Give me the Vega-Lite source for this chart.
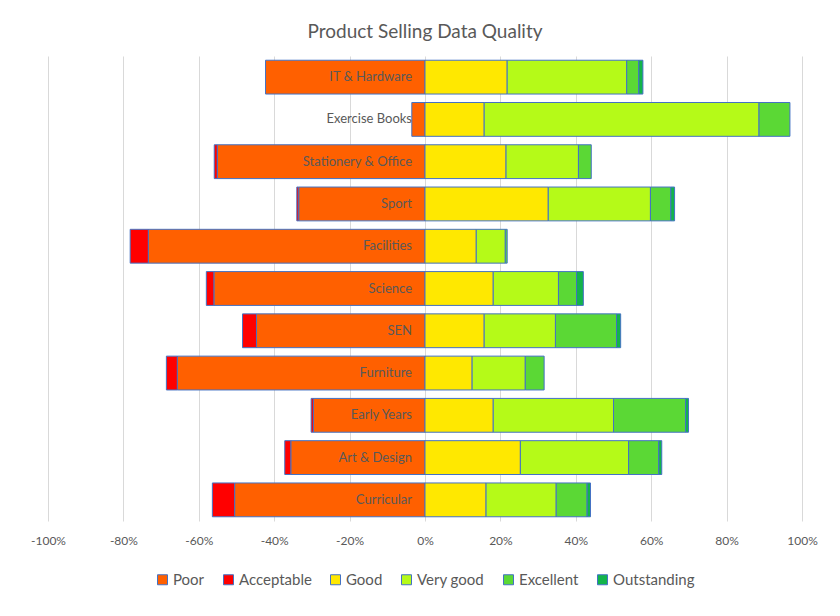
{
  "$schema": "https://vega.github.io/schema/vega-lite/v6.json",
  "width": 754,
  "height": 465,
  "padding": {"left": 30, "right": 20, "top": 23, "bottom": 10},
  "background": "white",
  "title": {
    "text": "Product Selling Data Quality",
    "font": "Lato",
    "fontSize": 19,
    "fontWeight": "normal",
    "color": "#595959",
    "offset": 14
  },
  "data": {
    "values": [
      {"category": "IT & Hardware", "rating": "Poor", "share": -0.423},
      {"category": "IT & Hardware", "rating": "Good", "share": 0.218},
      {"category": "IT & Hardware", "rating": "Very good", "share": 0.317},
      {"category": "IT & Hardware", "rating": "Excellent", "share": 0.032},
      {"category": "IT & Hardware", "rating": "Outstanding", "share": 0.011},
      {"category": "Exercise Books", "rating": "Poor", "share": -0.035},
      {"category": "Exercise Books", "rating": "Good", "share": 0.157},
      {"category": "Exercise Books", "rating": "Very good", "share": 0.729},
      {"category": "Exercise Books", "rating": "Excellent", "share": 0.082},
      {"category": "Stationery & Office", "rating": "Poor", "share": -0.551},
      {"category": "Stationery & Office", "rating": "Acceptable", "share": -0.008},
      {"category": "Stationery & Office", "rating": "Good", "share": 0.215},
      {"category": "Stationery & Office", "rating": "Very good", "share": 0.192},
      {"category": "Stationery & Office", "rating": "Excellent", "share": 0.034},
      {"category": "Sport", "rating": "Poor", "share": -0.335},
      {"category": "Sport", "rating": "Acceptable", "share": -0.005},
      {"category": "Sport", "rating": "Good", "share": 0.327},
      {"category": "Sport", "rating": "Very good", "share": 0.271},
      {"category": "Sport", "rating": "Excellent", "share": 0.054},
      {"category": "Sport", "rating": "Outstanding", "share": 0.010},
      {"category": "Facilities", "rating": "Poor", "share": -0.734},
      {"category": "Facilities", "rating": "Acceptable", "share": -0.048},
      {"category": "Facilities", "rating": "Good", "share": 0.136},
      {"category": "Facilities", "rating": "Very good", "share": 0.077},
      {"category": "Facilities", "rating": "Excellent", "share": 0.005},
      {"category": "Science", "rating": "Poor", "share": -0.560},
      {"category": "Science", "rating": "Acceptable", "share": -0.020},
      {"category": "Science", "rating": "Good", "share": 0.181},
      {"category": "Science", "rating": "Very good", "share": 0.173},
      {"category": "Science", "rating": "Excellent", "share": 0.048},
      {"category": "Science", "rating": "Outstanding", "share": 0.018},
      {"category": "SEN", "rating": "Poor", "share": -0.447},
      {"category": "SEN", "rating": "Acceptable", "share": -0.037},
      {"category": "SEN", "rating": "Good", "share": 0.157},
      {"category": "SEN", "rating": "Very good", "share": 0.189},
      {"category": "SEN", "rating": "Excellent", "share": 0.162},
      {"category": "SEN", "rating": "Outstanding", "share": 0.011},
      {"category": "Furniture", "rating": "Poor", "share": -0.657},
      {"category": "Furniture", "rating": "Acceptable", "share": -0.029},
      {"category": "Furniture", "rating": "Good", "share": 0.125},
      {"category": "Furniture", "rating": "Very good", "share": 0.141},
      {"category": "Furniture", "rating": "Excellent", "share": 0.050},
      {"category": "Early Years", "rating": "Poor", "share": -0.296},
      {"category": "Early Years", "rating": "Acceptable", "share": -0.006},
      {"category": "Early Years", "rating": "Good", "share": 0.181},
      {"category": "Early Years", "rating": "Very good", "share": 0.319},
      {"category": "Early Years", "rating": "Excellent", "share": 0.191},
      {"category": "Early Years", "rating": "Outstanding", "share": 0.008},
      {"category": "Art & Design", "rating": "Poor", "share": -0.356},
      {"category": "Art & Design", "rating": "Acceptable", "share": -0.016},
      {"category": "Art & Design", "rating": "Good", "share": 0.253},
      {"category": "Art & Design", "rating": "Very good", "share": 0.287},
      {"category": "Art & Design", "rating": "Excellent", "share": 0.080},
      {"category": "Art & Design", "rating": "Outstanding", "share": 0.008},
      {"category": "Curricular", "rating": "Poor", "share": -0.505},
      {"category": "Curricular", "rating": "Acceptable", "share": -0.059},
      {"category": "Curricular", "rating": "Good", "share": 0.162},
      {"category": "Curricular", "rating": "Very good", "share": 0.186},
      {"category": "Curricular", "rating": "Excellent", "share": 0.082},
      {"category": "Curricular", "rating": "Outstanding", "share": 0.009}
    ]
  },
  "encoding": {
    "y": {
      "field": "category",
      "type": "nominal",
      "sort": ["IT & Hardware", "Exercise Books", "Stationery & Office", "Sport", "Facilities", "Science", "SEN", "Furniture", "Early Years", "Art & Design", "Curricular"],
      "scale": {"paddingInner": 0.2, "paddingOuter": 0.1},
      "axis": null
    }
  },
  "layer": [
    {
      "transform": [
        {"calculate": "indexof(['Poor', 'Acceptable', 'Good', 'Very good', 'Excellent', 'Outstanding'], datum.rating)", "as": "level"}
      ],
      "mark": {"type": "bar", "stroke": "#4472C4", "strokeWidth": 1},
      "encoding": {
        "x": {
          "field": "share",
          "type": "quantitative",
          "stack": "zero",
          "scale": {"domain": [-1, 1]},
          "axis": {
            "values": [-1, -0.8, -0.6, -0.4, -0.2, 0, 0.2, 0.4, 0.6, 0.8, 1],
            "labelExpr": "round(datum.value * 100) + '%'",
            "labelFlush": false,
            "title": null,
            "grid": true,
            "gridColor": "#d9d9d9",
            "domain": false,
            "ticks": false,
            "labelPadding": 14,
            "labelFont": "Lato",
            "labelFontSize": 12,
            "labelColor": "#595959"
          }
        },
        "order": {"field": "level", "type": "quantitative", "sort": "ascending"},
        "color": {
          "field": "rating",
          "type": "nominal",
          "sort": ["Poor", "Acceptable", "Good", "Very good", "Excellent", "Outstanding"],
          "scale": {
            "domain": ["Poor", "Acceptable", "Good", "Very good", "Excellent", "Outstanding"],
            "range": ["#FF6000", "#FF0000", "#FFE800", "#B5FA18", "#5BD835", "#12B44A"]
          },
          "legend": {
            "orient": "bottom",
            "direction": "horizontal",
            "title": null,
            "symbolType": "square",
            "symbolSize": 100,
            "symbolStrokeColor": "#4472C4",
            "symbolStrokeWidth": 1,
            "symbolOpacity": 1,
            "labelFont": "Lato",
            "labelFontSize": 15,
            "labelColor": "#595959",
            "labelOffset": 3,
            "columnPadding": 16,
            "offset": 26
          }
        }
      }
    },
    {
      "transform": [{"filter": "datum.rating === 'Poor'"}],
      "mark": {"type": "text", "align": "right", "baseline": "middle", "dx": -13, "font": "Lato", "fontSize": 13, "color": "#595959"},
      "encoding": {
        "x": {"datum": 0},
        "text": {"field": "category"}
      }
    }
  ],
  "config": {
    "view": {"stroke": null},
    "legend": {"layout": {"bottom": {"anchor": "middle"}}}
  }
}
